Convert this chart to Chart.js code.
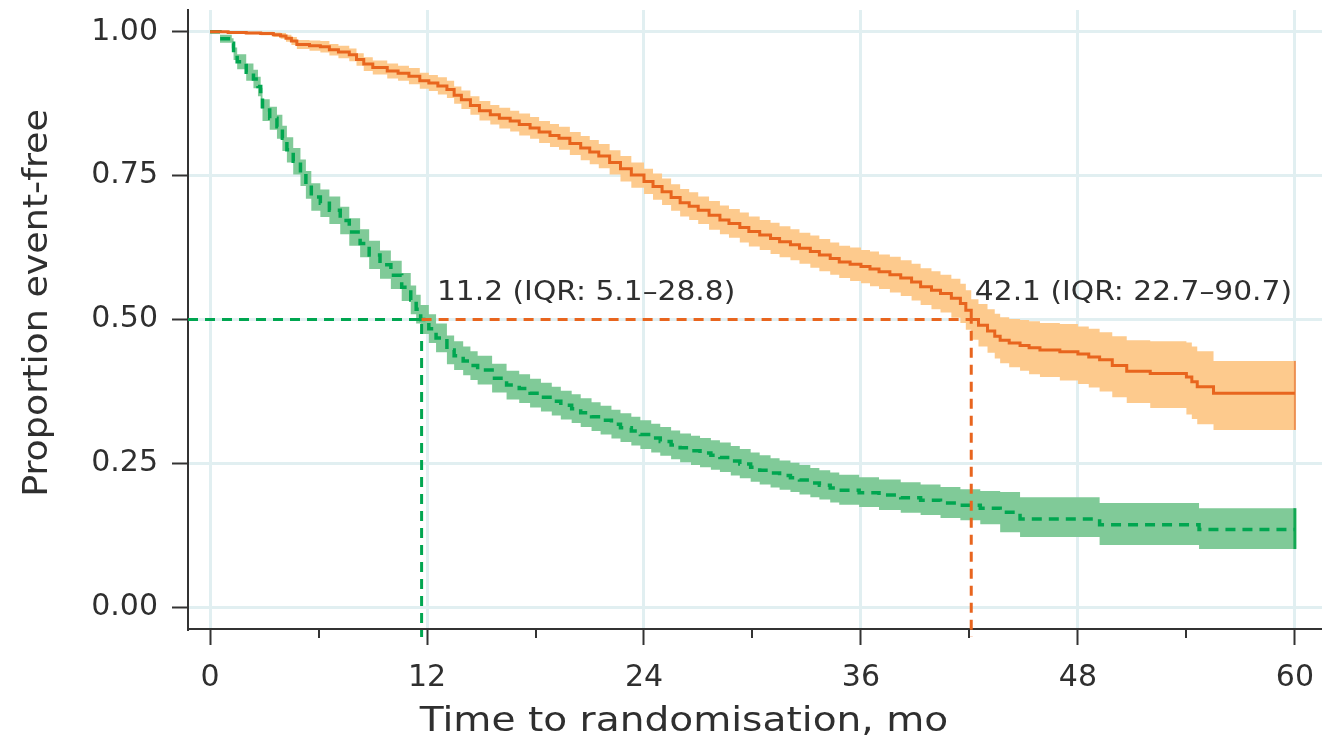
<!DOCTYPE html>
<html>
<head>
<meta charset="utf-8">
<script src="https://cdn.jsdelivr.net/npm/chart.js@4.4.1/dist/chart.umd.min.js"></script>
<style>
  html, body { margin: 0; padding: 0; background: #fff; }
  #wrap { width: 1322px; height: 749px; }
</style>
</head>
<body>
<div id="wrap"><canvas id="kmChart"></canvas></div>
<script>
// Orange arm (solid line) - KM estimate and confidence band
const orangeTime = [
  0, 1.0, 2.0, 2.8, 3.5, 3.9, 4.2, 4.5, 4.8, 5.5,
  6.1, 6.6, 7.1, 7.7, 8.1, 8.5, 9.0, 9.8, 10.4, 11.0,
  11.6, 12.1, 12.6, 13.1, 13.5, 13.9, 14.4, 14.9, 15.5, 16.0,
  16.6, 17.1, 17.7, 18.2, 18.8, 19.3, 19.9, 20.5, 21.0, 21.5,
  22.1, 22.7, 23.3, 24.0, 24.5, 25.0, 25.5, 26.0, 26.5, 27.0,
  27.6, 28.2, 28.7, 29.3, 29.8, 30.4, 31.0, 31.5, 32.1, 32.6,
  33.2, 33.7, 34.3, 34.8, 35.4, 36.0, 36.5, 37.0, 37.6, 38.2,
  38.8, 39.3, 39.9, 40.4, 41.0, 41.5, 41.8, 42.1, 42.5, 43.0,
  43.4, 43.7, 44.2, 44.8, 45.3, 45.9, 47.0, 48.0, 48.6, 49.2,
  49.9, 50.7, 52.0, 54.0, 54.3, 54.6, 55.5, 60.0];
const orangeSurv = [
  1.000, 0.999, 0.998, 0.997, 0.995, 0.993, 0.989, 0.984, 0.978, 0.976,
  0.974, 0.969, 0.965, 0.960, 0.952, 0.944, 0.938, 0.932, 0.928, 0.923,
  0.915, 0.911, 0.906, 0.900, 0.890, 0.882, 0.872, 0.863, 0.856, 0.850,
  0.845, 0.839, 0.833, 0.826, 0.820, 0.815, 0.806, 0.798, 0.791, 0.784,
  0.773, 0.762, 0.751, 0.740, 0.731, 0.722, 0.712, 0.703, 0.697, 0.690,
  0.681, 0.673, 0.667, 0.660, 0.653, 0.647, 0.641, 0.635, 0.630, 0.624,
  0.618, 0.612, 0.606, 0.600, 0.596, 0.592, 0.588, 0.583, 0.578, 0.572,
  0.565, 0.557, 0.551, 0.545, 0.537, 0.528, 0.516, 0.500, 0.490, 0.480,
  0.471, 0.464, 0.459, 0.455, 0.451, 0.447, 0.444, 0.440, 0.435, 0.430,
  0.420, 0.410, 0.406, 0.400, 0.392, 0.383, 0.372, 0.372];
const orangeLower = [
  1.000, 0.998, 0.996, 0.994, 0.991, 0.988, 0.983, 0.977, 0.970, 0.967,
  0.964, 0.959, 0.954, 0.949, 0.941, 0.932, 0.926, 0.919, 0.915, 0.909,
  0.901, 0.897, 0.891, 0.885, 0.875, 0.866, 0.856, 0.846, 0.839, 0.832,
  0.827, 0.820, 0.814, 0.807, 0.800, 0.795, 0.786, 0.777, 0.770, 0.763,
  0.752, 0.740, 0.729, 0.718, 0.708, 0.699, 0.689, 0.679, 0.673, 0.666,
  0.656, 0.648, 0.642, 0.634, 0.627, 0.621, 0.614, 0.608, 0.603, 0.597,
  0.590, 0.584, 0.578, 0.572, 0.567, 0.563, 0.558, 0.553, 0.547, 0.541,
  0.533, 0.525, 0.518, 0.512, 0.503, 0.494, 0.482, 0.465, 0.453, 0.442,
  0.432, 0.424, 0.417, 0.411, 0.405, 0.400, 0.394, 0.388, 0.382, 0.375,
  0.365, 0.355, 0.346, 0.335, 0.327, 0.318, 0.308, 0.308];
const orangeUpper = [
  1.000, 1.000, 1.000, 1.000, 0.999, 0.998, 0.995, 0.991, 0.986, 0.985,
  0.984, 0.979, 0.976, 0.971, 0.963, 0.956, 0.950, 0.945, 0.941, 0.937,
  0.929, 0.925, 0.921, 0.915, 0.905, 0.898, 0.888, 0.880, 0.873, 0.868,
  0.863, 0.858, 0.852, 0.845, 0.840, 0.835, 0.826, 0.819, 0.812, 0.805,
  0.794, 0.784, 0.773, 0.762, 0.754, 0.745, 0.735, 0.727, 0.721, 0.714,
  0.706, 0.698, 0.692, 0.686, 0.679, 0.673, 0.668, 0.662, 0.657, 0.651,
  0.646, 0.640, 0.634, 0.628, 0.625, 0.621, 0.618, 0.613, 0.609, 0.603,
  0.597, 0.589, 0.584, 0.578, 0.571, 0.562, 0.551, 0.535, 0.527, 0.518,
  0.510, 0.504, 0.501, 0.499, 0.497, 0.494, 0.492, 0.488, 0.484, 0.478,
  0.471, 0.464, 0.462, 0.460, 0.453, 0.445, 0.428, 0.428];

// Green arm (dashed line)
const greenTime = [
  0, 0.55, 1.2, 1.3, 1.5, 2.0, 2.4, 2.65, 2.8, 2.9,
  3.3, 3.7, 4.0, 4.25, 4.6, 5.0, 5.3, 5.6, 6.1, 6.6,
  7.2, 7.7, 8.3, 8.8, 9.4, 10.0, 10.6, 11.1, 11.4, 11.65,
  12.1, 12.5, 13.1, 13.5, 14.0, 14.4, 14.8, 15.6, 16.4, 17.1,
  17.7, 18.3, 18.9, 19.4, 20.0, 20.5, 21.1, 21.6, 22.2, 22.7,
  23.3, 23.8, 24.4, 24.9, 25.5, 26.0, 26.6, 27.1, 27.7, 28.2,
  28.8, 29.3, 29.9, 30.4, 31.0, 31.5, 32.1, 32.6, 33.2, 33.7,
  34.3, 34.8, 35.9, 37.0, 38.2, 39.3, 40.4, 41.5, 42.6, 43.7,
  44.8, 49.2, 54.7, 60.0];
const greenSurv = [
  1.000, 0.988, 0.980, 0.962, 0.948, 0.930, 0.918, 0.905, 0.885, 0.864,
  0.850, 0.835, 0.815, 0.795, 0.775, 0.755, 0.734, 0.713, 0.702, 0.690,
  0.672, 0.652, 0.632, 0.612, 0.595, 0.577, 0.556, 0.534, 0.518, 0.500,
  0.484, 0.468, 0.447, 0.437, 0.428, 0.420, 0.412, 0.398, 0.386, 0.380,
  0.372, 0.365, 0.358, 0.351, 0.345, 0.338, 0.331, 0.325, 0.318, 0.312,
  0.306, 0.300, 0.294, 0.288, 0.282, 0.277, 0.272, 0.268, 0.264, 0.260,
  0.254, 0.249, 0.243, 0.238, 0.233, 0.229, 0.225, 0.221, 0.216, 0.212,
  0.207, 0.203, 0.199, 0.195, 0.190, 0.186, 0.181, 0.177, 0.172, 0.165,
  0.153, 0.143, 0.135, 0.135];
const greenLower = [
  1.000, 0.981, 0.971, 0.951, 0.935, 0.915, 0.902, 0.888, 0.867, 0.845,
  0.830, 0.814, 0.793, 0.773, 0.752, 0.732, 0.710, 0.689, 0.678, 0.666,
  0.648, 0.628, 0.608, 0.588, 0.571, 0.553, 0.532, 0.509, 0.493, 0.475,
  0.459, 0.443, 0.422, 0.412, 0.403, 0.395, 0.387, 0.373, 0.361, 0.355,
  0.347, 0.340, 0.333, 0.326, 0.320, 0.313, 0.306, 0.300, 0.293, 0.287,
  0.281, 0.275, 0.269, 0.263, 0.257, 0.252, 0.247, 0.243, 0.239, 0.235,
  0.229, 0.224, 0.218, 0.213, 0.208, 0.204, 0.200, 0.196, 0.191, 0.187,
  0.182, 0.178, 0.174, 0.169, 0.164, 0.160, 0.155, 0.151, 0.144, 0.130,
  0.122, 0.108, 0.101, 0.101];
const greenUpper = [
  1.000, 0.995, 0.989, 0.973, 0.961, 0.945, 0.934, 0.922, 0.903, 0.883,
  0.870, 0.856, 0.837, 0.817, 0.798, 0.778, 0.758, 0.737, 0.726, 0.714,
  0.696, 0.676, 0.657, 0.637, 0.620, 0.602, 0.581, 0.559, 0.543, 0.525,
  0.509, 0.493, 0.472, 0.462, 0.453, 0.445, 0.437, 0.423, 0.411, 0.405,
  0.397, 0.390, 0.383, 0.376, 0.370, 0.363, 0.356, 0.350, 0.343, 0.337,
  0.331, 0.325, 0.319, 0.313, 0.307, 0.302, 0.298, 0.294, 0.290, 0.286,
  0.280, 0.275, 0.269, 0.264, 0.259, 0.255, 0.251, 0.247, 0.242, 0.238,
  0.234, 0.230, 0.226, 0.222, 0.217, 0.213, 0.209, 0.205, 0.202, 0.200,
  0.191, 0.181, 0.172, 0.172];

// axes and medians
const xTicks = [0, 12, 24, 36, 48, 60];
const xMinorTicks = [6, 18, 30, 42, 54];
const yTicks = [0, 0.25, 0.5, 0.75, 1];
const greenMedian = 11.7;
const orangeMedian = 42.1;
const noteText = ['11.2 (IQR: 5.1\u201328.8)', '42.1 (IQR: 22.7\u201390.7)'];
const noteX = [12.55, 42.3];
const noteY = [0.546, 0.546];

const xMin = -1.22, xMax = 61.5;
const yMin = -0.038, yMax = 1.038;
const refBottom = -0.052;

const fontFamily = "'DejaVu Sans', Verdana, sans-serif";
const textColor = '#2f2f2f';
const axisColor = '#333333';
const gridColor = '#e1eff1';
const orangeLine = '#e8651e';
const orangeBand = '#fdca8d';
const greenLine = '#00a650';
const greenBand = '#80ca98';

const pts = (xs, ys) => xs.map((x, i) => ({ x: x, y: ys[i] }));
const last = arr => arr[arr.length - 1];

const base = { pointRadius: 0, stepped: true, fill: false, borderWidth: 0 };

// stretched text, the original uses a wider face than DejaVu
function wideText(ctx, text, x, y, sx, rot) {
  ctx.save();
  ctx.translate(x, y);
  if (rot) ctx.rotate(rot);
  ctx.scale(sx, 1);
  ctx.fillText(text, 0, 0);
  ctx.restore();
}

const overlay = {
  id: 'overlay',
  afterDatasetsDraw(chart) {
    const { ctx, scales: { x, y } } = chart;
    ctx.save();
    ctx.fillStyle = textColor;
    ctx.font = '27px ' + fontFamily;
    ctx.textBaseline = 'middle';
    ctx.textAlign = 'left';
    noteText.forEach((t, i) => wideText(ctx, t, x.getPixelForValue(noteX[i]), y.getPixelForValue(noteY[i]), 1.1, 0));
    ctx.restore();
  },
  afterDraw(chart) {
    const { ctx, scales: { x } } = chart;
    ctx.save();
    // minor x ticks
    ctx.strokeStyle = axisColor;
    ctx.lineWidth = 2;
    xMinorTicks.forEach(v => {
      const px = Math.round(x.getPixelForValue(v));
      ctx.beginPath();
      ctx.moveTo(px, x.top);
      ctx.lineTo(px, x.top + 9);
      ctx.stroke();
    });
    // axis titles
    ctx.fillStyle = textColor;
    ctx.font = '34px ' + fontFamily;
    ctx.textAlign = 'center';
    ctx.textBaseline = 'middle';
    wideText(ctx, 'Time to randomisation, mo', 684, 722, 1.15, 0);
    wideText(ctx, 'Proportion event-free', 38, 303, 1.07, -Math.PI / 2);
    ctx.restore();
  }
};

new Chart(document.getElementById('kmChart'), {
  type: 'line',
  data: {
    datasets: [
      { ...base, label: 'orange upper', data: pts(orangeTime, orangeUpper), fill: '+1', backgroundColor: orangeBand, borderColor: orangeBand, order: 6 },
      { ...base, label: 'orange lower', data: pts(orangeTime, orangeLower), borderColor: orangeBand, order: 6 },
      { ...base, label: 'green upper', data: pts(greenTime, greenUpper), fill: '+1', backgroundColor: greenBand, borderColor: greenBand, order: 5 },
      { ...base, label: 'green lower', data: pts(greenTime, greenLower), borderColor: greenBand, order: 5 },
      { ...base, label: 'orange end', stepped: false, borderWidth: 2, borderColor: '#ee9050',
        data: [{ x: last(orangeTime), y: last(orangeLower) }, { x: last(orangeTime), y: last(orangeUpper) }], order: 4 },
      { ...base, label: 'green end', stepped: false, borderWidth: 3, borderColor: '#13a853',
        data: [{ x: last(greenTime), y: last(greenLower) }, { x: last(greenTime), y: last(greenUpper) }], order: 4 },
      { ...base, label: 'Orange', data: pts(orangeTime, orangeSurv), borderColor: orangeLine, borderWidth: 3, order: 3 },
      { ...base, label: 'Green', data: pts(greenTime, greenSurv), borderColor: greenLine, borderWidth: 3.5, borderDash: [10, 7], order: 3 },
      { ...base, label: 'green median', stepped: false, clip: false, borderColor: greenLine, borderWidth: 3, borderDash: [10, 7],
        data: [{ x: xMin, y: 0.5 }, { x: greenMedian, y: 0.5 }, { x: greenMedian, y: refBottom }], order: 1 },
      { ...base, label: 'orange median', stepped: false, clip: false, borderColor: orangeLine, borderWidth: 3, borderDash: [10, 7],
        data: [{ x: greenMedian, y: 0.5 }, { x: orangeMedian, y: 0.5 }, { x: orangeMedian, y: refBottom }], order: 2 }
    ]
  },
  options: {
    responsive: true,
    maintainAspectRatio: false,
    animation: false,
    layout: { padding: { top: 10, right: 0, bottom: 0, left: 0 } },
    plugins: { legend: { display: false }, tooltip: { enabled: false } },
    scales: {
      x: {
        type: 'linear', min: xMin, max: xMax,
        afterBuildTicks: s => { s.ticks = xTicks.map(v => ({ value: v })); },
        afterFit: s => { s.height = 120; s.paddingLeft = 0; s.paddingRight = 0; },
        grid: { color: gridColor, lineWidth: 3, tickColor: axisColor, tickWidth: 2, tickLength: 16 },
        border: { color: axisColor, width: 2 },
        ticks: { color: textColor, font: { family: fontFamily, size: 30 }, padding: 15, maxRotation: 0, autoSkip: false }
      },
      y: {
        type: 'linear', min: yMin, max: yMax,
        afterBuildTicks: s => { s.ticks = yTicks.map(v => ({ value: v })); },
        afterFit: s => { s.width = 188; s.paddingTop = 0; s.paddingBottom = 0; },
        grid: { color: gridColor, lineWidth: 3, tickColor: axisColor, tickWidth: 2, tickLength: 16 },
        border: { color: axisColor, width: 2 },
        ticks: { color: textColor, font: { family: fontFamily, size: 30 }, padding: 14, callback: v => v.toFixed(2) }
      }
    }
  },
  plugins: [overlay]
});
</script>
</body>
</html>
